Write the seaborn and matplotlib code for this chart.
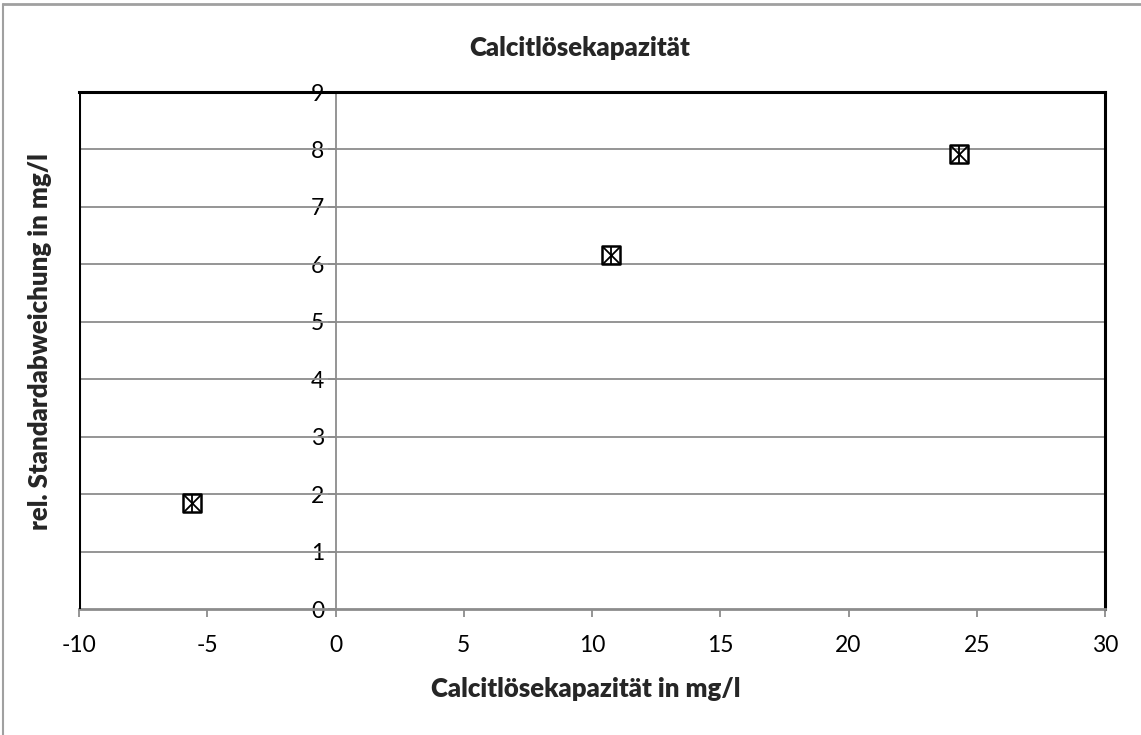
import numpy as np
import pandas as pd
import matplotlib
matplotlib.use('Agg')
import matplotlib.pyplot as plt
import seaborn as sns
from matplotlib.lines import Line2D

# ── Data ──────────────────────────────────────────────────────────────────────
capacity  = [-5.6, 10.75, 24.3]     # Calcitlösekapazität in mg/l
rel_std   = [1.84, 6.16, 7.92]      # rel. Standardabweichung in mg/l
x_ticks   = [-10, -5, 0, 5, 10, 15, 20, 25, 30]
y_ticks   = [0, 1, 2, 3, 4, 5, 6, 7, 8, 9]

TITLE  = 'Calcitlösekapazität'
XLABEL = 'Calcitlösekapazität in mg/l'
YLABEL = 'rel. Standardabweichung in mg/l'

df = pd.DataFrame({'x': capacity, 'y': rel_std})

# ── Style ─────────────────────────────────────────────────────────────────────
sns.set_theme(style='white')
plt.rcParams['font.family'] = ['Lato', 'DejaVu Sans']
GRID = '#8c8c8c'
LBL_SIZE = 18.5
LBL_WEIGHT = 'heavy'

fig = plt.figure(figsize=(11.41, 7.35), dpi=100)
ax = fig.add_axes([79 / 1141, 1 - 609 / 735, (1105 - 79) / 1141, (609 - 92) / 735])

# markers: open square + x + vertical bar
ms = 13
sns.scatterplot(data=df, x='x', y='y', marker='s', s=ms ** 2, facecolors='none',
                edgecolor='black', linewidth=1.8, ax=ax, zorder=5)
sns.scatterplot(data=df, x='x', y='y', marker='x', s=ms ** 2, color='black',
                linewidth=1.3, ax=ax, zorder=6)
sns.scatterplot(data=df, x='x', y='y', marker='|', s=ms ** 2, color='black',
                linewidth=1.3, ax=ax, zorder=6)

ax.set_xlim(x_ticks[0], x_ticks[-1])
ax.set_ylim(y_ticks[0], y_ticks[-1])
ax.set_xticks(x_ticks)
ax.set_yticks(y_ticks)
ax.set_xticklabels([str(v) for v in x_ticks])
ax.set_yticklabels([str(v) for v in y_ticks])

# horizontal gridlines
for v in y_ticks[1:-1]:
    ax.axhline(v, color=GRID, lw=1.3, zorder=1)

# y-axis crosses at x = 0
ax.spines['left'].set_position(('data', 0))
ax.spines['left'].set_color(GRID)
ax.spines['left'].set_linewidth(1.3)
ax.spines['bottom'].set_color(GRID)
ax.spines['bottom'].set_linewidth(2)
for side in ('top', 'right'):
    ax.spines[side].set_color('black')
    ax.spines[side].set_linewidth(2.2)
ax.axvline(x_ticks[0], color='black', lw=2.2, zorder=4)

ax.tick_params(axis='both', which='both', direction='out', length=6, width=1.3,
               color=GRID, labelsize=16.5, labelcolor='black', pad=4)
ax.tick_params(axis='y', pad=2)
ax.tick_params(axis='x', pad=13)
ax.yaxis.set_ticks_position('left')
ax.xaxis.set_ticks_position('bottom')

ax.set_xlabel('')
ax.set_ylabel('')
fig.text(586 / 1141, 1 - 689 / 735, XLABEL, ha='center', va='center',
         fontsize=LBL_SIZE, fontweight=LBL_WEIGHT)
fig.text(40 / 1141, 1 - 342 / 735, YLABEL, ha='center', va='center',
         rotation=90, fontsize=LBL_SIZE, fontweight=LBL_WEIGHT)
fig.text(580 / 1141, 1 - 48 / 735, TITLE, ha='center', va='center',
         fontsize=LBL_SIZE, fontweight=LBL_WEIGHT)

# outer chart frame (partially visible)
fig.add_artist(Line2D([3 / 1141, 1], [1 - 4 / 735, 1 - 4 / 735],
                      transform=fig.transFigure, color='#a0a0a0', lw=2))
fig.add_artist(Line2D([3 / 1141, 3 / 1141], [0, 1 - 4 / 735],
                      transform=fig.transFigure, color='#a0a0a0', lw=1.5))

fig.savefig('out.png', dpi=100)
